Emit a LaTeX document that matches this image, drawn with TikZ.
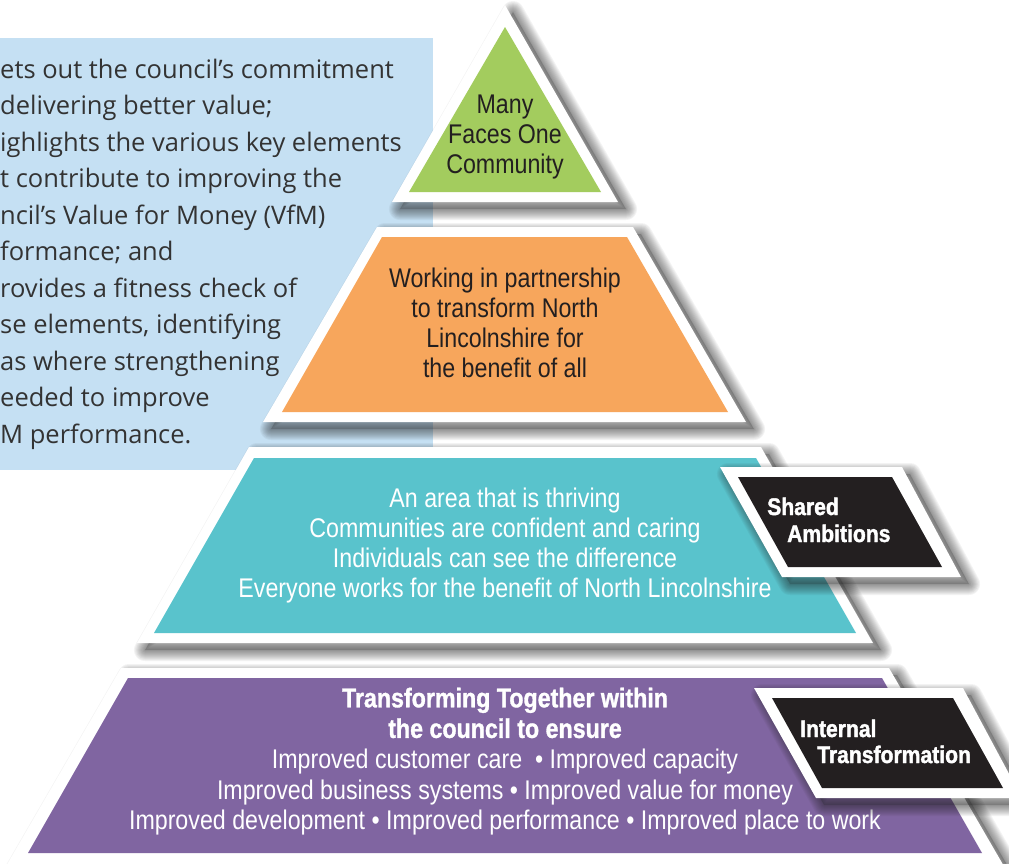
\documentclass[tikz,border=0pt]{standalone}
\usepackage{fontspec}
\setmainfont{Liberation Sans}
\newfontfamily\condf[FakeStretch=0.86,BoldFeatures={FakeBold=1.2}]{Liberation Sans}
\newfontfamily\labf[FakeStretch=0.88,BoldFeatures={FakeBold=1.6}]{Liberation Sans}
\newfontfamily\bodyf{Open Sans}
\definecolor{lblue}{HTML}{C5E0F3}
\definecolor{pgreen}{HTML}{A3CC5E}
\definecolor{porange}{HTML}{F7A65C}
\definecolor{pteal}{HTML}{59C3CC}
\definecolor{ppurple}{HTML}{8065A1}
\definecolor{pblack}{HTML}{231F20}
\definecolor{txtdark}{HTML}{231F20}
\definecolor{bodytxt}{HTML}{333333}
\definecolor{shadowc}{HTML}{202020}
\newcommand\pyrlayer[3]{%
  \begin{scope}[shift={(8,7)}]
    \fill[shadowc,opacity=0.22] #1;
    \foreach \w in {2,4,...,22}{\draw[shadowc,opacity=0.05,line width=\w pt,line join=round] #1;}
  \end{scope}
  \fill[white] #1;
  \fill[#3] #2;}
\tikzset{
  ptext/.style={inner sep=0pt,align=center,font=\condf\fontsize{27}{30}\selectfont},
  labtext/.style={inner sep=0pt,anchor=base west,text=white,font=\labf\bfseries\fontsize{24}{26}\selectfont},
  bodytext/.style={inner sep=0pt,anchor=base west,text=bodytxt,font=\bodyf\fontsize{25.5}{36}\selectfont}
}
\begin{document}
\begin{tikzpicture}[x=1pt,y=-1pt]
\useasboundingbox (0,0) rectangle (1009,863);
\fill[white] (0,0) rectangle (1009,863);
% light blue text panel
\fill[lblue] (0,38) rectangle (433,470);
\node[bodytext] (l1) at (0,78) {ets out the council’s commitment};
\node[bodytext] (l2) at (0,114.5) {delivering better value;};
\node[bodytext] (l3) at (0,151) {ighlights the various key elements};
\node[bodytext] (l4) at (0,187.5) {t contribute to improving the};
\node[bodytext] (l5) at (0,224) {ncil’s Value for Money (VfM)};
\node[bodytext] (l6) at (0,260.5) {formance; and};
\node[bodytext] (l7) at (0,297) {rovides a fitness check of};
\node[bodytext] (l8) at (0,333.5) {se elements, identifying};
\node[bodytext] (l9) at (0,370) {as where strengthening};
\node[bodytext] (l10) at (0,406.5) {eeded to improve};
\node[bodytext] (l11) at (0,443) {M performance.};
% pyramid layers
\pyrlayer{(505,5)--(618,202)--(392,202)--cycle}{(505,27)--(601,192)--(409,192)--cycle}{pgreen}
\node[ptext,text=txtdark] (green) at (505,137) {Many\\Faces One\\Community};
\pyrlayer{(377,227)--(633,227)--(746,422)--(263,422)--cycle}{(382,237)--(627,237)--(728,412)--(282,412)--cycle}{porange}
\node[ptext,text=txtdark] (orange) at (505,322.5) {Working in partnership\\to transform North\\Lincolnshire for\\the benefit of all};
\pyrlayer{(249,447)--(761,447)--(873,643)--(137,643)--cycle}{(254,458)--(756,458)--(856,633)--(154,633)--cycle}{pteal}
\node[ptext,text=white] (teal) at (505,545.5) {An area that is thriving\\Communities are confident and caring\\Individuals can see the difference\\Everyone works for the benefit of North Lincolnshire};
\pyrlayer{(720,467)--(902,467)--(961,577)--(782,577)--cycle}{(738,477)--(892,477)--(942,567)--(788,567)--cycle}{pblack}
\node[labtext] (sa1) at (767,515) {Shared};
\node[labtext] (sa2) at (787,542) {Ambitions};
\pyrlayer{(121,668)--(889,668)--(1005,868)--(5,868)--cycle}{(128,678)--(882,678)--(982,853)--(28,853)--cycle}{ppurple}
\node[ptext,text=white,font=\condf\fontsize{27}{30.6}\selectfont] (purple) at (505,761.5) {\textbf{Transforming Together within}\\\textbf{the council to ensure}\\Improved customer care~~\textbullet~Improved capacity\\Improved business systems \textbullet~Improved value for money\\Improved development \textbullet~Improved performance \textbullet~Improved place to work};
\pyrlayer{(754,688)--(963,688)--(1022,798)--(816,798)--cycle}{(772,698)--(953,698)--(1003,788)--(822,788)--cycle}{pblack}
\node[labtext] (it1) at (800,737) {Internal};
\node[labtext] (it2) at (817,763) {Transformation};
\end{tikzpicture}
\end{document}
